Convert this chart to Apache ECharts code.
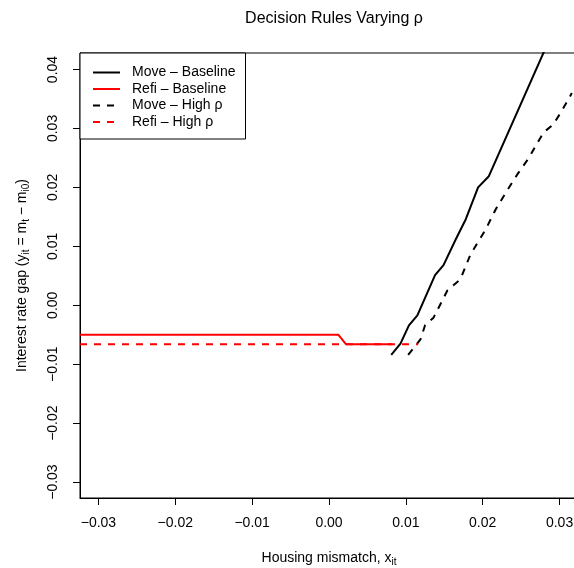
<!DOCTYPE html>
<html>
<head>
<meta charset="utf-8">
<script src="https://cdn.jsdelivr.net/npm/echarts@6/dist/echarts.min.js"></script>
<style>
  html, body { margin: 0; padding: 0; background: #fff; }
  #chart { width: 574px; height: 568px; }
</style>
</head>
<body>
<div id="chart"></div>
<script>
  // values
  var xTicks = [-0.03, -0.02, -0.01, 0.00, 0.01, 0.02, 0.03];
  var yTicks = [-0.03, -0.02, -0.01, 0.00, 0.01, 0.02, 0.03, 0.04];

  var moveBaseX = [0.0081, 0.0093, 0.0104, 0.0115, 0.0138, 0.0149, 0.0165, 0.0178, 0.0194, 0.0208, 0.0280];
  var moveBaseY = [-0.0084, -0.0065, -0.0034, -0.0017, 0.0051, 0.0068, 0.0112, 0.0146, 0.0200, 0.0219, 0.0431];

  var refiBaseX = [-0.0324, 0.0012, 0.0022, 0.0082];
  var refiBaseY = [-0.0050, -0.0050, -0.0066, -0.0066];

  var moveHighX = [0.0103, 0.0119, 0.0125, 0.0136, 0.0147, 0.0154, 0.0171, 0.0184, 0.0204, 0.0217, 0.0230, 0.0245, 0.0260, 0.0279, 0.0292, 0.0303, 0.0316];
  var moveHighY = [-0.0084, -0.0058, -0.0034, -0.0021, 0.0007, 0.0025, 0.0044, 0.0086, 0.0129, 0.0163, 0.0191, 0.0222, 0.0250, 0.0293, 0.0307, 0.0330, 0.0360];

  var refiHighX = [-0.0324, 0.0116];
  var refiHighY = [-0.0066, -0.0066];

  var seriesNames = ['Move \u2013 Baseline', 'Refi \u2013 Baseline', 'Move \u2013 High \u03c1', 'Refi \u2013 High \u03c1'];

  function pairs(xs, ys) {
    var out = [];
    for (var i = 0; i < xs.length; i++) {
      out.push([xs[i], ys[i]]);
    }
    return out;
  }

  function fmt(v) {
    return v.toFixed(2).replace('-', '\u2212');
  }

  var font = 'Liberation Sans, Arial, sans-serif';

  function lineSeries(name, xs, ys, color, dashed) {
    return {
      name: name,
      type: 'line',
      data: pairs(xs, ys),
      symbol: 'none',
      animation: false,
      lineStyle: {
        color: color,
        width: 2,
        type: dashed ? [7, 7] : 'solid'
      },
      itemStyle: { color: color }
    };
  }

  var chart = echarts.init(document.getElementById('chart'));
  chart.setOption({
    backgroundColor: '#fff',
    title: {
      text: 'Decision Rules Varying \u03c1',
      left: 329,
      top: 6,
      textAlign: 'center',
      textStyle: { fontFamily: font, fontSize: 16, fontWeight: 'normal', color: '#000' }
    },
    legend: {
      orient: 'vertical',
      left: 80,
      top: 53,
      padding: [12.5, 10, 10, 12],
      itemWidth: 27,
      itemHeight: 14,
      itemGap: 2.5,
      borderColor: '#000',
      borderWidth: 1,
      backgroundColor: '#fff',
      data: seriesNames,
      // hide the symbol, keep only the line sample
      itemStyle: { color: 'transparent', borderWidth: 0, opacity: 0 },
      textStyle: { fontFamily: font, fontSize: 14, color: '#000', padding: [0, 0, 0, 7] }
    },
    grid: {
      left: 80,
      right: -4,
      top: 53,
      bottom: 70,
      outerBoundsMode: 'none',
      containLabel: false,
      show: true,
      borderColor: '#000',
      borderWidth: 1
    },
    xAxis: {
      type: 'value',
      min: -0.0324,
      max: 0.0324,
      name: 'Housing mismatch, x{s|it}',
      nameLocation: 'middle',
      nameGap: 51,
      nameTextStyle: {
        fontFamily: font, fontSize: 14, color: '#000',
        rich: { s: { fontFamily: font, fontSize: 10, color: '#000', padding: [8, 0, 0, 0] } }
      },
      axisLine: { onZero: false, lineStyle: { color: '#000', width: 1 } },
      axisTick: { length: 7, inside: false, lineStyle: { color: '#000' }, customValues: xTicks },
      axisLabel: {
        customValues: xTicks,
        margin: 18,
        fontFamily: font, fontSize: 14, color: '#000',
        formatter: fmt
      },
      splitLine: { show: false }
    },
    yAxis: {
      type: 'value',
      min: -0.0327,
      max: 0.0428,
      name: 'Interest rate gap (y{s|it} = m{s|t} \u2212 m{s|i0})',
      nameLocation: 'middle',
      nameRotate: 90,
      nameGap: 49,
      nameTextStyle: {
        fontFamily: font, fontSize: 14, color: '#000',
        rich: { s: { fontFamily: font, fontSize: 10, color: '#000', padding: [8, 0, 0, 0] } }
      },
      axisLine: { show: true, onZero: false, lineStyle: { color: '#000', width: 1 } },
      axisTick: { show: true, inside: false, length: 7, lineStyle: { color: '#000' }, customValues: yTicks },
      axisLabel: {
        customValues: yTicks,
        rotate: 90,
        margin: 20,
        fontFamily: font, fontSize: 14, color: '#000',
        formatter: fmt
      },
      splitLine: { show: false }
    },
    series: [
      lineSeries(seriesNames[0], moveBaseX, moveBaseY, '#000', false),
      lineSeries(seriesNames[1], refiBaseX, refiBaseY, '#ff0000', false),
      lineSeries(seriesNames[2], moveHighX, moveHighY, '#000', true),
      lineSeries(seriesNames[3], refiHighX, refiHighY, '#ff0000', true)
    ]
  });
</script>
</body>
</html>
